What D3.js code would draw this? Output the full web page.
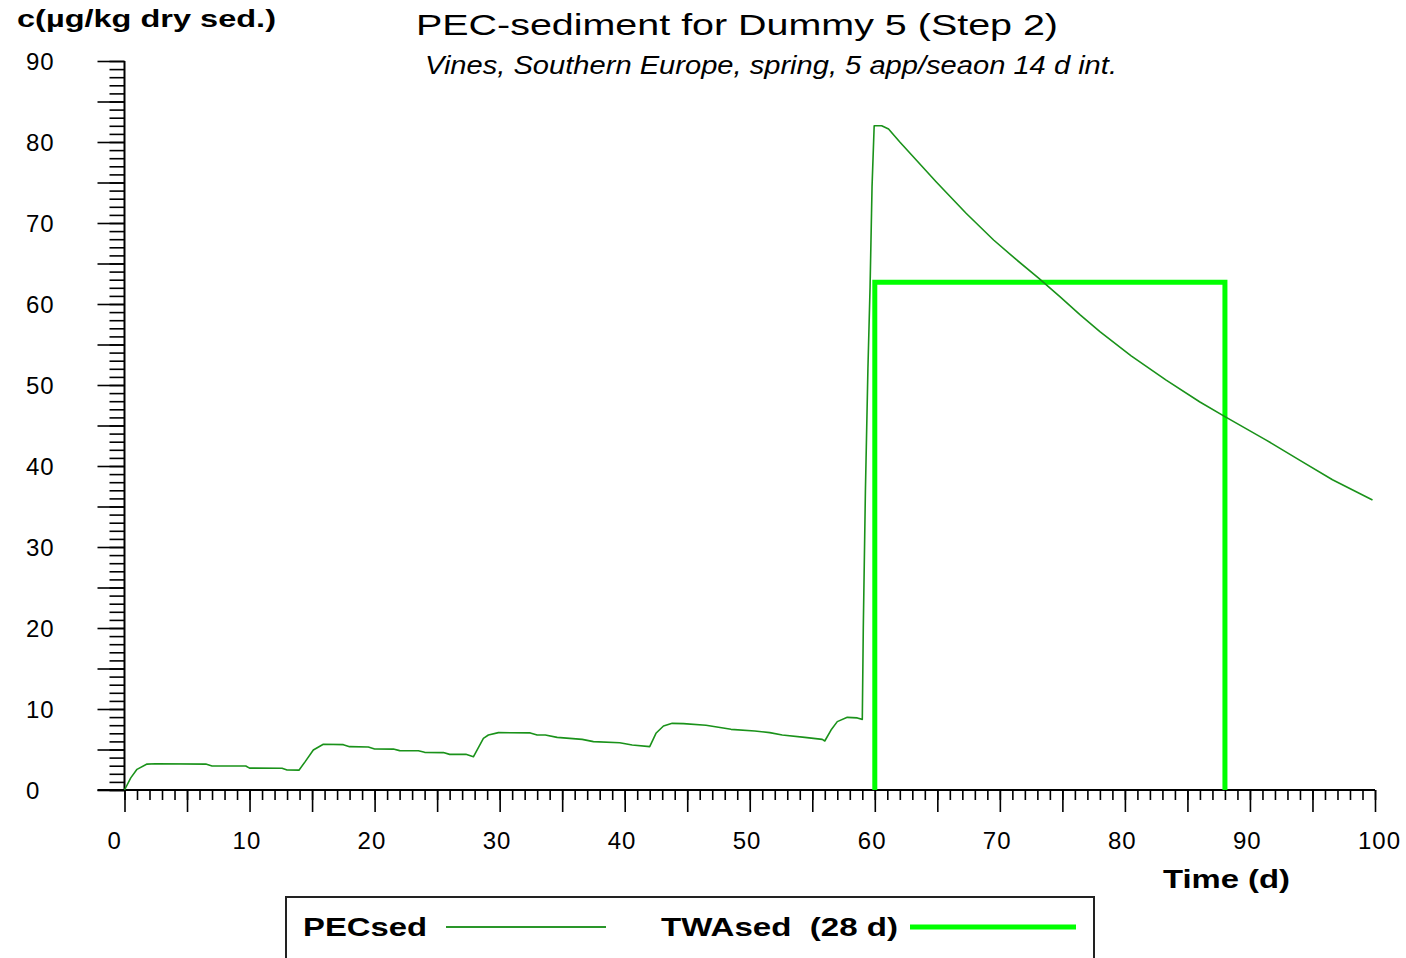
<!DOCTYPE html>
<html>
<head>
<meta charset="utf-8">
<script src="https://cdn.jsdelivr.net/npm/d3@7"></script>
<style>
  html, body { margin: 0; padding: 0; background: #fff; }
  svg { display: block; }
  text { font-family: "Liberation Sans", Arial, sans-serif; fill: #000; }
</style>
</head>
<body>
<svg id="chart" width="1406" height="958"></svg>
<script>
// ---- data ----
const pecDays = [0, 0.5, 1.0, 1.8, 2.5, 6.5, 7.0, 9.7, 10.0, 12.6, 13.0, 13.95, 14.45, 15.1, 15.9, 17.5, 18.0, 19.5, 20.0, 21.5, 22.0, 23.5, 24.0, 25.5, 26.0, 27.3, 27.9,
  28.7, 29.1, 29.9, 32.45, 33.0, 33.65, 34.6, 36.6, 37.5, 39.6, 40.6, 42.0,
  42.5, 43.1, 43.8, 44.7, 46.5, 47.5, 48.5, 50.4, 51.6, 52.6, 54.4, 55.8, 56.0,
  56.5, 57.0, 57.8, 58.6, 59.0,
  59.08, 59.25, 59.45, 59.62, 59.78, 59.95, 60.55, 61.1,
  62.0, 64.9, 67.3, 69.5, 71.3, 73.1, 74.8, 76.4, 78.0, 80.5, 83.3, 86.0, 88.0, 91.3, 94.0, 96.6, 99.8];
const pecValues = [0, 1.5, 2.55, 3.2, 3.25, 3.2, 2.96, 2.96, 2.7, 2.68, 2.47, 2.45, 3.5, 4.94, 5.64, 5.6, 5.35, 5.3, 5.06, 5.05, 4.86, 4.85, 4.65, 4.62, 4.4, 4.4, 4.1,
  6.38, 6.79, 7.08, 7.05, 6.79, 6.79, 6.5, 6.25, 5.97, 5.84, 5.56, 5.35,
  7.0, 7.9, 8.23, 8.2, 8.0, 7.74, 7.49, 7.28, 7.08, 6.79, 6.5, 6.25, 6.05,
  7.4, 8.44, 8.97, 8.9, 8.72,
  20, 37, 52, 62, 74.5, 82, 82, 81.6,
  80.0, 75.1, 71.2, 67.9, 65.5, 63.2, 60.9, 58.7, 56.6, 53.6, 50.6, 47.9, 46.1, 43.2, 40.7, 38.3, 35.8];
const twaDays = [60, 60, 88, 88];
const twaValues = [0, 62.7, 62.7, 0];
const xTickLabels = [0, 10, 20, 30, 40, 50, 60, 70, 80, 90, 100];
const yTickLabels = [0, 10, 20, 30, 40, 50, 60, 70, 80, 90];
const titleText = "PEC-sediment for Dummy 5 (Step 2)";
const subtitleText = "Vines, Southern Europe, spring, 5 app/seaon 14 d int.";
const yAxisTitle = "c(\u00b5g/kg dry sed.)";
const xAxisTitle = "Time (d)";
const legendLabels = ["PECsed", "TWAsed  (28 d)"];

// ---- drawing ----
const svg = d3.select("#chart");
const x = d3.scaleLinear().domain([0, 100]).range([124.5, 1375]);
const y = d3.scaleLinear().domain([0, 90]).range([790, 61]);

const xMinor = d3.range(0, 101, 1);
const xMajor = d3.range(0, 101, 5);
const yMinor = d3.range(0, 91, 1);
const yMajor = d3.range(0, 91, 5);

function styleTicks(g) {
  g.select(".domain").remove();
  g.selectAll("line").attr("stroke", "#000").attr("stroke-width", 1.6);
}
svg.append("g").attr("transform", `translate(0,${y(0)})`)
  .call(d3.axisBottom(x).tickValues(xMinor).tickSize(10).tickFormat("")).call(styleTicks);
svg.append("g").attr("transform", `translate(0,${y(0)})`)
  .call(d3.axisBottom(x).tickValues(xMajor).tickSize(22).tickFormat("")).call(styleTicks);
svg.append("g").attr("transform", `translate(${x(0)},0)`)
  .call(d3.axisLeft(y).tickValues(yMinor).tickSize(15).tickFormat("")).call(styleTicks);
svg.append("g").attr("transform", `translate(${x(0)},0)`)
  .call(d3.axisLeft(y).tickValues(yMajor).tickSize(27).tickFormat("")).call(styleTicks);

// axis lines
svg.append("line").attr("x1", x(0) - 27).attr("x2", x(100)).attr("y1", y(0)).attr("y2", y(0))
  .attr("stroke", "#000").attr("stroke-width", 2);
svg.append("line").attr("x1", x(0)).attr("x2", x(0)).attr("y1", y(90)).attr("y2", y(0))
  .attr("stroke", "#000").attr("stroke-width", 2);

// tick labels
svg.append("g").selectAll("text").data(xTickLabels).join("text")
  .attr("x", d => x(d) - 17).attr("y", 849)
  .attr("font-size", 24).attr("letter-spacing", 1).attr("fill", "#111")
  .text(d => d);
svg.append("g").selectAll("text").data(yTickLabels).join("text")
  .attr("x", 26).attr("y", d => y(d) + 9)
  .attr("font-size", 24).attr("letter-spacing", 1).attr("fill", "#111")
  .text(d => d);

// titles
svg.append("text").attr("x", 416).attr("y", 35).attr("font-size", 30)
  .attr("textLength", 642).attr("lengthAdjust", "spacingAndGlyphs").text(titleText);
svg.append("text").attr("x", 425).attr("y", 74).attr("font-size", 26)
  .attr("font-style", "italic").attr("fill", "#222")
  .attr("textLength", 692).attr("lengthAdjust", "spacingAndGlyphs").text(subtitleText);
svg.append("text").attr("x", 17).attr("y", 27).attr("font-size", 23).attr("font-weight", "bold")
  .attr("textLength", 259).attr("lengthAdjust", "spacingAndGlyphs").text(yAxisTitle);
svg.append("text").attr("x", 1163).attr("y", 888).attr("font-size", 25).attr("font-weight", "bold")
  .attr("textLength", 127).attr("lengthAdjust", "spacingAndGlyphs").text(xAxisTitle);

// series
const pecData = pecDays.map((d, i) => [d, pecValues[i]]);
const twaData = twaDays.map((d, i) => [d, twaValues[i]]);
const line = d3.line().x(d => x(d[0])).y(d => y(d[1]));

svg.append("path").datum(twaData).attr("d", line)
  .attr("fill", "none").attr("stroke", "#00ff00").attr("stroke-width", 5)
  .attr("stroke-linejoin", "miter");
svg.append("path").datum(pecData).attr("d", line)
  .attr("fill", "none").attr("stroke", "#1a921a").attr("stroke-width", 1.6)
  .attr("stroke-linejoin", "round");

// legend
const lg = svg.append("g");
lg.append("rect").attr("x", 286).attr("y", 897).attr("width", 808).attr("height", 80)
  .attr("fill", "#fff").attr("stroke", "#222").attr("stroke-width", 2);
lg.append("text").attr("x", 303).attr("y", 936).attr("font-size", 26).attr("font-weight", "bold")
  .attr("textLength", 124).attr("lengthAdjust", "spacingAndGlyphs").text(legendLabels[0]);
lg.append("line").attr("x1", 446).attr("x2", 606).attr("y1", 927).attr("y2", 927)
  .attr("stroke", "#2a962a").attr("stroke-width", 2);
lg.append("text").attr("x", 661).attr("y", 936).attr("font-size", 26).attr("font-weight", "bold")
  .attr("textLength", 237).attr("lengthAdjust", "spacingAndGlyphs")
  .style("white-space", "pre").text(legendLabels[1]);
lg.append("line").attr("x1", 910).attr("x2", 1076).attr("y1", 927).attr("y2", 927)
  .attr("stroke", "#00ff00").attr("stroke-width", 5);
</script>
</body>
</html>
